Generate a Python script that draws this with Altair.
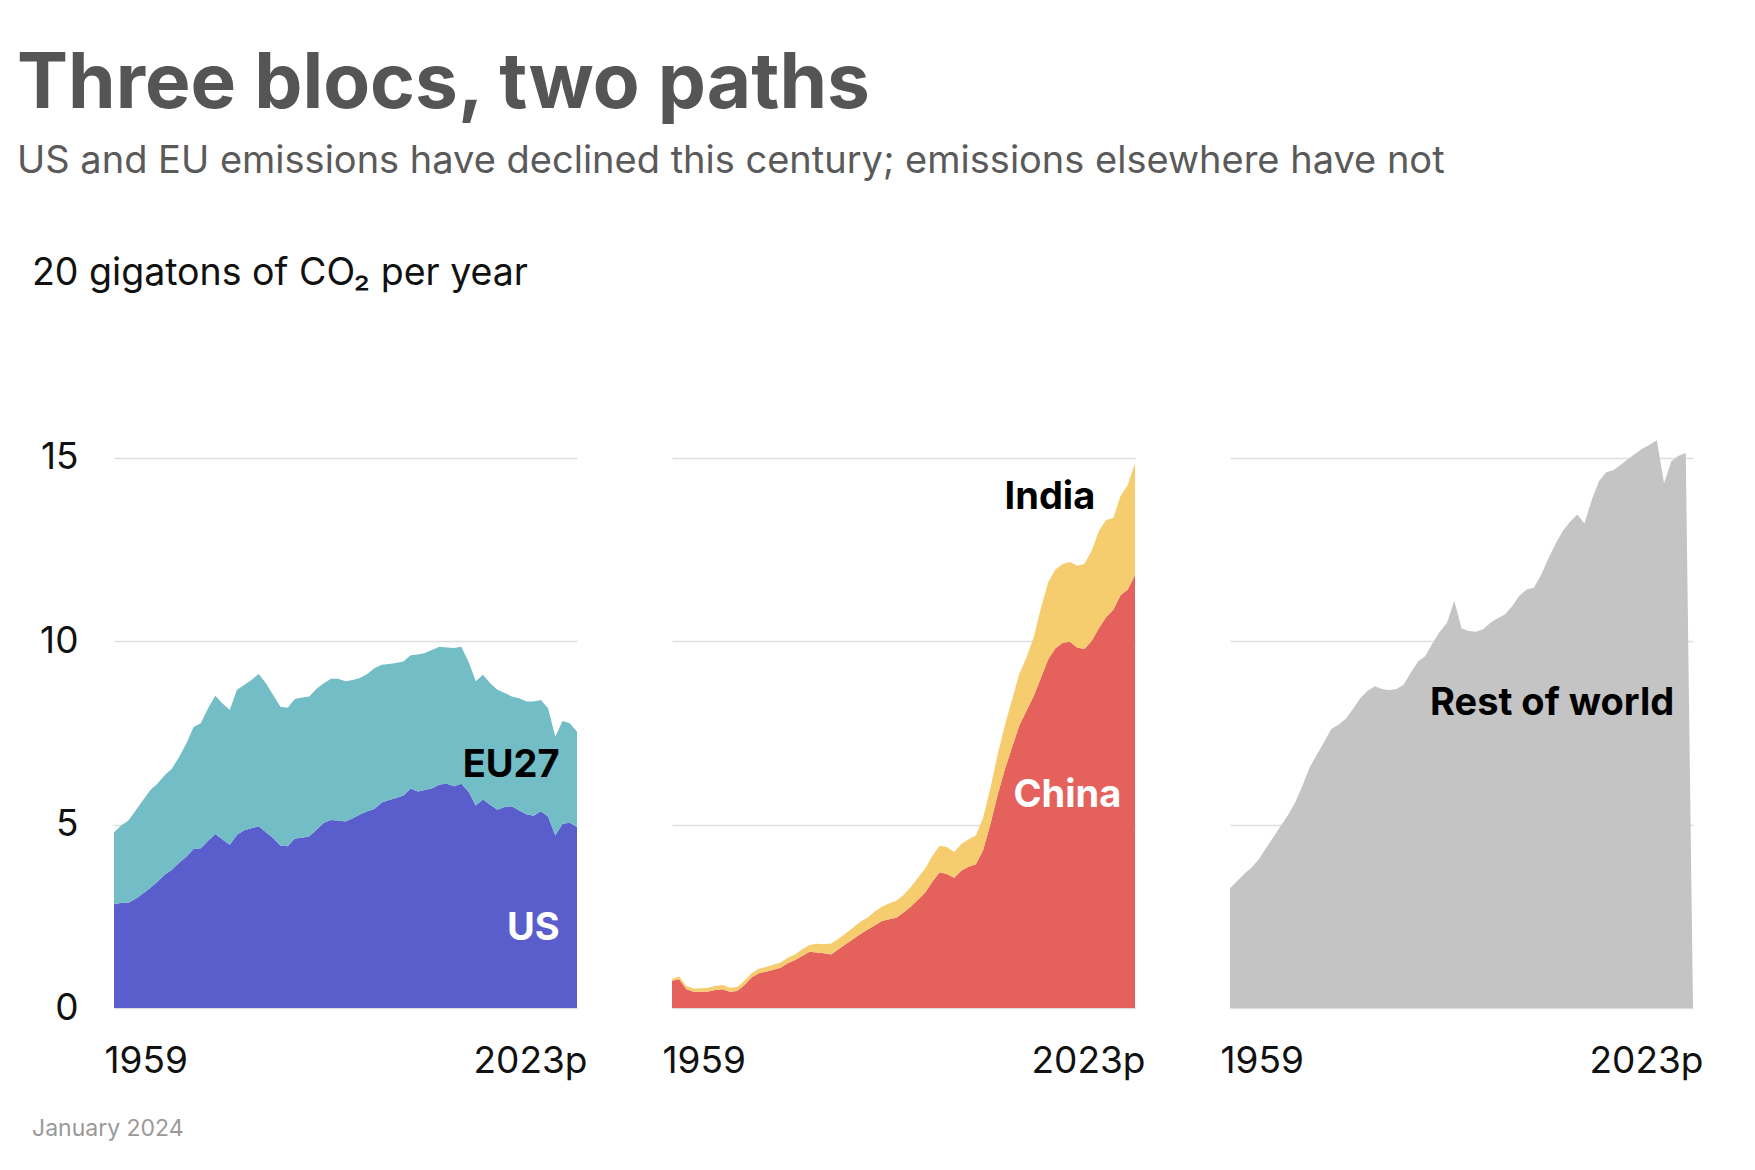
import altair as alt
import pandas as pd

years = list(range(1959, 2024))

us = [2.83, 2.87, 2.87, 2.98, 3.12, 3.27, 3.44, 3.63, 3.77, 3.96,
      4.12, 4.33, 4.35, 4.56, 4.74, 4.59, 4.45, 4.72, 4.84, 4.90,
      4.95, 4.79, 4.63, 4.43, 4.41, 4.62, 4.64, 4.68, 4.86, 5.05,
      5.12, 5.11, 5.08, 5.17, 5.27, 5.36, 5.42, 5.60, 5.67, 5.72,
      5.79, 5.98, 5.90, 5.94, 5.99, 6.09, 6.11, 6.04, 6.11, 5.90,
      5.52, 5.68, 5.54, 5.40, 5.48, 5.50, 5.38, 5.28, 5.24, 5.36,
      5.22, 4.70, 5.02, 5.05, 4.93]

eu27 = [1.96, 2.10, 2.24, 2.40, 2.54, 2.66, 2.67, 2.71, 2.75, 2.88,
        3.09, 3.33, 3.41, 3.61, 3.77, 3.71, 3.67, 3.95, 3.96, 4.04,
        4.15, 4.06, 3.90, 3.78, 3.77, 3.80, 3.82, 3.81, 3.84, 3.80,
        3.85, 3.86, 3.82, 3.77, 3.72, 3.74, 3.84, 3.75, 3.70, 3.68,
        3.65, 3.63, 3.73, 3.73, 3.77, 3.75, 3.71, 3.77, 3.73, 3.54,
        3.38, 3.40, 3.31, 3.27, 3.10, 2.99, 3.06, 3.07, 3.11, 3.03,
        2.95, 2.69, 2.80, 2.71, 2.60]

china = [0.74, 0.78, 0.51, 0.44, 0.44, 0.45, 0.49, 0.51, 0.44, 0.46,
         0.62, 0.83, 0.95, 0.99, 1.04, 1.10, 1.22, 1.31, 1.42, 1.53,
         1.51, 1.49, 1.46, 1.60, 1.74, 1.87, 2.01, 2.13, 2.25, 2.37,
         2.42, 2.46, 2.60, 2.76, 2.95, 3.15, 3.45, 3.70, 3.65, 3.55,
         3.75, 3.85, 3.92, 4.30, 5.00, 5.80, 6.50, 7.10, 7.70, 8.10,
         8.50, 9.00, 9.50, 9.80, 9.95, 9.98, 9.82, 9.78, 10.00, 10.35,
         10.65, 10.85, 11.25, 11.40, 11.80]

india = [0.06, 0.07, 0.09, 0.09, 0.10, 0.10, 0.11, 0.12, 0.11, 0.11,
         0.12, 0.12, 0.12, 0.13, 0.14, 0.14, 0.15, 0.15, 0.18, 0.19,
         0.24, 0.25, 0.30, 0.29, 0.29, 0.32, 0.34, 0.33, 0.37, 0.39,
         0.43, 0.46, 0.48, 0.54, 0.60, 0.65, 0.70, 0.72, 0.74, 0.70,
         0.72, 0.75, 0.78, 0.88, 0.98, 1.10, 1.20, 1.30, 1.40, 1.45,
         1.60, 1.90, 2.10, 2.15, 2.15, 2.17, 2.23, 2.32, 2.45, 2.65,
         2.65, 2.50, 2.70, 2.85, 3.05]

rest_of_world = [3.26, 3.46, 3.66, 3.83, 4.06, 4.36, 4.66, 4.96, 5.25, 5.60,
                 6.05, 6.55, 6.90, 7.25, 7.60, 7.72, 7.88, 8.15, 8.44, 8.64,
                 8.77, 8.69, 8.66, 8.69, 8.81, 9.14, 9.44, 9.59, 9.94, 10.25,
                 10.50, 11.10, 10.35, 10.27, 10.25, 10.32, 10.50, 10.62, 10.72, 10.95,
                 11.23, 11.40, 11.45, 11.80, 12.25, 12.65, 13.00, 13.25, 13.45, 13.20,
                 13.85, 14.35, 14.60, 14.65, 14.80, 14.95, 15.10, 15.24, 15.35, 15.47,
                 14.30, 14.90, 15.05, 15.12, 0.0]

x_ticks = [1959, 2023]
y_ticks = [0, 5, 10, 15]

label_names = ["US", "EU27", "China", "India", "Rest of world"]
label_years = [2020.6, 2020.6, 2021.1, 2017.5, 2020.4]
label_values = [2.16, 6.6, 5.78, 13.9, 8.29]
label_colors = ["#ffffff", "#000000", "#ffffff", "#000000", "#000000"]

title_text = "Three blocs, two paths"
subtitle_text = "US and EU emissions have declined this century; emissions elsewhere have not"
unit_text = "20 gigatons of CO\u2082 per year"
footer_text = "January 2024"

FONT = "Inter"
W, H = 463, 734


def long_df(series_list, names):
    rows = []
    for k, (s, n) in enumerate(zip(series_list, names)):
        for y, v in zip(years, s):
            rows.append({"year": y, "value": v, "region": n, "ord": k})
    return pd.DataFrame(rows)


def x_enc():
    return alt.X(
        "year:Q",
        scale=alt.Scale(domain=[1959, 2023], nice=False, zero=False),
        axis=alt.Axis(values=x_ticks, labelExpr="datum.value == 2023 ? '2023p' : '' + datum.value",
                      labelFlush=True, labelFlushOffset=10, grid=False, domain=False, ticks=False,
                      tickSize=0, labelPadding=64, labelBaseline="alphabetic", labelFontSize=37,
                      labelFont=FONT, labelColor="#111111", title=None),
    )


def y_enc(show_labels):
    return alt.Y(
        "value:Q",
        stack="zero",
        scale=alt.Scale(domain=[0, 20], nice=False),
        axis=alt.Axis(values=y_ticks, labels=show_labels, grid=True, gridColor="#dedede", gridWidth=1.5,
                      domain=False, ticks=False, tickSize=0, labelPadding=36, labelFontSize=37,
                      labelFont=FONT, labelColor="#111111", title=None),
    )


def area_panel(series_list, names, colors, show_labels):
    df = long_df(series_list, names)
    return alt.Chart(df).mark_area(interpolate="linear").encode(
        x=x_enc(),
        y=y_enc(show_labels),
        color=alt.Color("region:N", scale=alt.Scale(domain=names, range=colors), legend=None),
        order=alt.Order("ord:Q", sort="ascending"),
    )


def label_layer(idx):
    d = pd.DataFrame({"x": [label_years[idx]], "y": [label_values[idx]], "t": [label_names[idx]]})
    return alt.Chart(d).mark_text(align="right", baseline="middle", font=FONT, fontWeight="bold",
                                  fontSize=38, color=label_colors[idx]).encode(
        x=alt.X("x:Q"), y=alt.Y("y:Q"), text="t:N")


def free_text(txt, x, y, size, color, weight="normal", baseline="alphabetic"):
    d = pd.DataFrame({"t": [txt]})
    return alt.Chart(d).mark_text(align="left", baseline=baseline, font=FONT, fontSize=size,
                                  fontWeight=weight, color=color).encode(
        x=alt.value(x), y=alt.value(y), text="t:N")


p1 = alt.layer(
    area_panel([us, eu27], ["US", "EU27"], ["#5a5ecc", "#72bdc6"], True),
    label_layer(0), label_layer(1),
    free_text(title_text, -97, -166, 76.5, "#555555", "bold"),
    free_text(subtitle_text, -97, -101, 38, "#5a5a5a"),
    free_text(unit_text, -82, 0, 37.5, "#111111", baseline="middle"),
    free_text(footer_text, -82, 862, 23, "#9a9a9a"),
).properties(width=W, height=H)

p2 = alt.layer(
    area_panel([china, india], ["China", "India"], ["#e5625c", "#f5cd6e"], False),
    label_layer(2), label_layer(3),
).properties(width=W, height=H)

p3 = alt.layer(
    area_panel([rest_of_world], ["Rest of world"], ["#c4c4c4"], False),
    label_layer(4),
).properties(width=W, height=H)

chart = alt.hconcat(p1, p2, p3, spacing=95, bounds="flush").resolve_scale(
    color="independent", x="independent", y="independent"
).properties(
    autosize=alt.AutoSizeParams(type="none"),
    padding={"left": 114, "top": 274, "right": 1641, "bottom": 896},
    background="white",
).configure_view(stroke=None)

chart.save("out.html", embed_options={"renderer": "svg", "actions": False})
